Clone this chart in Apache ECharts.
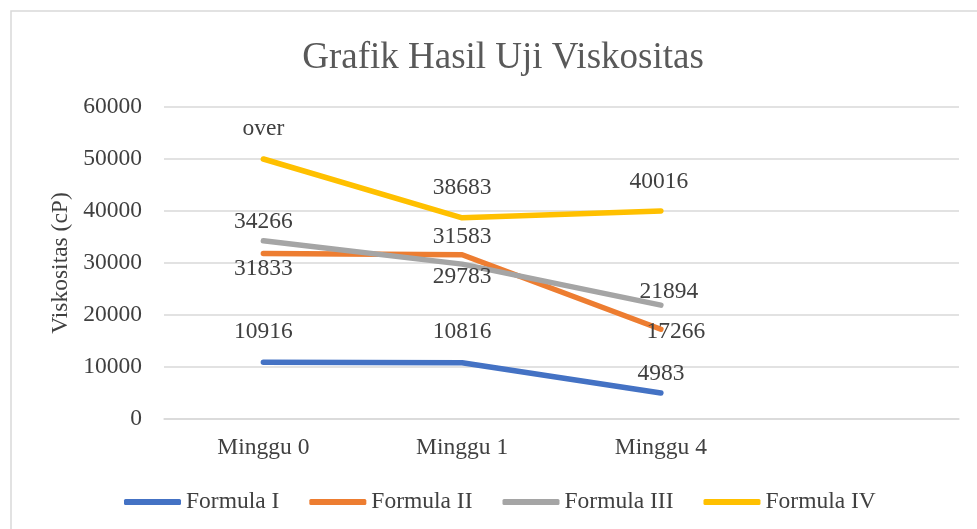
<!DOCTYPE html>
<html>
<head>
<meta charset="utf-8">
<script src="https://cdn.jsdelivr.net/npm/echarts@6/dist/echarts.min.js"></script>
<style>
  html, body { margin: 0; padding: 0; background: #fff; }
  #chart { width: 977px; height: 529px; }
</style>
</head>
<body>
<div id="chart"></div>
<script>
// data
const categories = ["Minggu 0", "Minggu 1", "Minggu 4", ""];
const seriesNames = ["Formula I", "Formula II", "Formula III", "Formula IV"];
const formula1 = [10916, 10816, 4983];
const formula2 = [31833, 31583, 17266];
const formula3 = [34266, 29783, 21894];
const formula4 = [50000, 38683, 40016];
const formula4Labels = ["over", "38683", "40016"];
const yTicks = [0, 10000, 20000, 30000, 40000, 50000, 60000];

const colors = ["#4472C4", "#ED7D31", "#A5A5A5", "#FFC000"];
const font = "'Liberation Serif', 'Times New Roman', serif";
const textColor = "#404040";
const fs = 23.5;

// where each value label sits relative to its point (dx, dy)
const labelShift = [
  [[0, -30], [0, -31], [0, -19]],
  [[0, 15], [0, -18], [15, 3]],
  [[0, -19], [0, 13], [8, -13]],
  [[0, -30], [0, -30], [-2, -29]]
];

function buildData(values, idx, texts) {
  return values.map((v, i) => ({
    value: v,
    label: {
      offset: labelShift[idx][i],
      formatter: texts ? texts[i] : String(v)
    }
  }));
}

const allValues = [formula1, formula2, formula3, formula4];

const chart = echarts.init(document.getElementById("chart"));

chart.setOption({
  animation: false,
  title: {
    text: "Grafik Hasil Uji Viskositas",
    top: 35,
    left: 498,
    textAlign: "center",
    textStyle: { fontFamily: font, fontSize: 37, fontWeight: "normal", color: "#595959" }
  },
  graphic: [{
    type: "rect",
    shape: { x: 11, y: 11, width: 980, height: 540 },
    style: { fill: "none", stroke: "#d9d9d9", lineWidth: 1.5 },
    silent: true
  }],
  legend: {
    data: seriesNames,
    top: 485,
    left: 119,
    itemWidth: 57,
    itemHeight: 6,
    itemGap: 30,
    icon: "roundRect",
    textStyle: { fontFamily: font, fontSize: fs, color: textColor }
  },
  grid: { left: 164, right: 18, top: 107, bottom: 110 },
  xAxis: {
    type: "category",
    data: categories,
    boundaryGap: true,
    axisLine: { lineStyle: { color: "#d9d9d9", width: 1.5 } },
    axisTick: { show: false },
    axisLabel: { fontFamily: font, fontSize: fs, color: textColor, margin: 17 }
  },
  yAxis: {
    type: "value",
    min: yTicks[0],
    max: yTicks[yTicks.length - 1],
    interval: yTicks[1] - yTicks[0],
    name: "Viskositas (cP)",
    nameLocation: "middle",
    nameGap: 89,
    nameTextStyle: { fontFamily: font, fontSize: fs, color: textColor },
    axisLine: { show: false },
    axisTick: { show: false },
    splitLine: { lineStyle: { color: "#d9d9d9", width: 1.5 } },
    axisLabel: { fontFamily: font, fontSize: fs, color: textColor, margin: 22, formatter: v => String(v) }
  },
  series: seriesNames.map((name, idx) => ({
    name: name,
    type: "line",
    data: buildData(allValues[idx], idx, idx === 3 ? formula4Labels : null),
    symbol: "circle",
    symbolSize: 1,
    showSymbol: true,
    itemStyle: { color: colors[idx] },
    lineStyle: { color: colors[idx], width: 5.5, cap: "round", join: "round" },
    label: {
      show: true,
      position: "inside",
      fontFamily: font,
      fontSize: fs,
      color: textColor
    },
    z: 2 + idx
  }))
});
</script>
</body>
</html>
